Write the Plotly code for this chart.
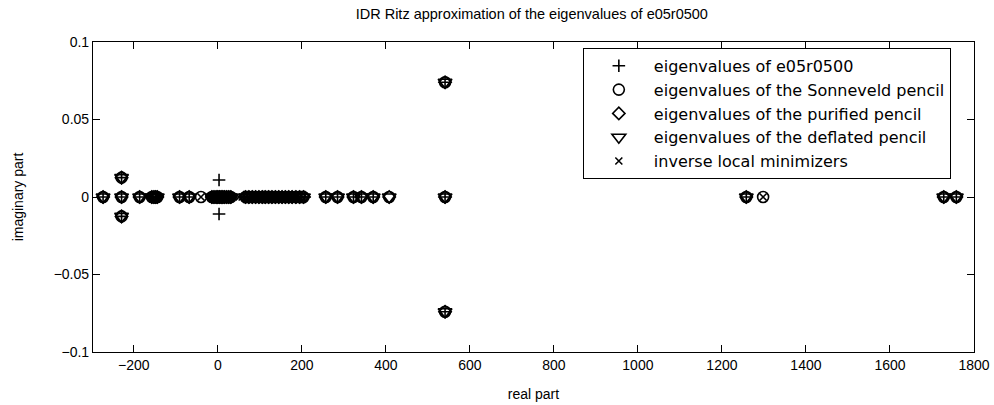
import plotly.graph_objects as go

# ---- data ----
eig_re = [-273, -229, -229, -229, -186, -157, -152, -148, -144, -91, -68,
          -14, -10, -6, -3, 0, 2, 4, 6, 9, 12, 16, 20, 24, 28, 32, 3, 3,
          62, 70, 76, 83, 90, 97, 104, 110, 117, 124, 131, 138, 146, 153,
          160, 168, 176, 184, 192, 200, 207,
          257, 285, 323, 342, 370, 541, 541, 541, 1258, 1728, 1758]
eig_im = [0, 0.0125, -0.0125, 0, 0, 0, 0, 0, 0, 0, 0,
          0, 0, 0, 0, 0, 0, 0, 0, 0, 0, 0, 0, 0, 0, 0, 0.011, -0.011,
          0, 0, 0, 0, 0, 0, 0, 0, 0, 0, 0, 0, 0, 0,
          0, 0, 0, 0, 0, 0, 0,
          0, 0, 0, 0, 0, 0.074, -0.074, 0, 0, 0, 0]

son_re = [-273, -229, -229, -229, -186, -157, -152, -148, -144, -91, -68, -40,
          -14, -9, -4, 0, 4, 8, 12, 16, 21, 26, 31,
          66, 74, 82, 90, 98, 106, 113, 121, 129, 137, 145, 153, 161, 169,
          177, 186, 195, 204, 257, 285, 323, 342, 370, 408,
          541, 541, 541, 1258, 1298, 1728, 1758]
son_im = [0, 0.0125, -0.0125, 0, 0, 0, 0, 0, 0, 0, 0, 0,
          0, 0, 0, 0, 0, 0, 0, 0, 0, 0, 0,
          0, 0, 0, 0, 0, 0, 0, 0, 0, 0, 0, 0, 0, 0,
          0, 0, 0, 0, 0, 0, 0, 0, 0, 0,
          0.074, -0.074, 0, 0, 0, 0, 0]

pur_re = [-273, -229, -229, -229, -186, -157, -152, -148, -144, -91, -68,
          -14, -9, -4, 0, 4, 8, 12, 16, 21, 26, 31,
          66, 74, 82, 90, 98, 106, 113, 121, 129, 137, 145, 153, 161, 169,
          177, 186, 195, 204, 257, 285, 323, 342, 370, 408,
          541, 541, 541, 1258, 1728, 1758]
pur_im = [0, 0.0125, -0.0125, 0, 0, 0, 0, 0, 0, 0, 0,
          0, 0, 0, 0, 0, 0, 0, 0, 0, 0, 0,
          0, 0, 0, 0, 0, 0, 0, 0, 0, 0, 0, 0, 0, 0,
          0, 0, 0, 0, 0, 0, 0, 0, 0, 0,
          0.074, -0.074, 0, 0, 0, 0]

def_re = [-273, -229, -229, -229, -186, -157, -152, -148, -144, -91, -68,
          -14, -9, -4, 0, 4, 8, 12, 16, 21, 26, 31,
          66, 74, 82, 90, 98, 106, 113, 121, 129, 137, 145, 153, 161, 169,
          177, 186, 195, 204, 257, 285, 323, 342, 370, 408,
          541, 541, 541, 1258, 1728, 1758]
def_im = [0, 0.0125, -0.0125, 0, 0, 0, 0, 0, 0, 0, 0,
          0, 0, 0, 0, 0, 0, 0, 0, 0, 0, 0,
          0, 0, 0, 0, 0, 0, 0, 0, 0, 0, 0, 0, 0, 0,
          0, 0, 0, 0, 0, 0, 0, 0, 0, 0,
          0.074, -0.074, 0, 0, 0, 0]

ilm_re = [-40, 51, 58, 68, 80, 94, 108, 122, 136, 150, 165, 180, 1298]
ilm_im = [0, 0, 0, 0, 0, 0, 0, 0, 0, 0, 0, 0, 0]

x_ticks = [-200, 0, 200, 400, 600, 800, 1000, 1200, 1400, 1600, 1800]
x_tick_text = ["\u2212200", "0", "200", "400", "600", "800", "1000", "1200",
               "1400", "1600", "1800"]
y_ticks = [-0.1, -0.05, 0, 0.05, 0.1]
y_tick_text = ["\u22120.1", "\u22120.05", "0", "0.05", "0.1"]

series = [
    ("eigenvalues of e05r0500", eig_re, eig_im, "cross-thin-open", 9),
    ("eigenvalues of the Sonneveld pencil", son_re, son_im, "circle-open", 11),
    ("eigenvalues of the purified pencil", pur_re, pur_im, "diamond-open", 9.5),
    ("eigenvalues of the deflated pencil", def_re, def_im, "triangle-down-open", 12),
    ("inverse local minimizers", ilm_re, ilm_im, "x-thin-open", 7),
]

fig = go.Figure()
for name, xr, yi, sym, sz in series:
    fig.add_trace(go.Scatter(
        x=xr, y=yi, mode="markers", name=name,
        marker=dict(symbol=sym, size=sz, color="black",
                    line=dict(color="black", width=1.6)),
    ))

axis_common = dict(showline=True, linecolor="black", linewidth=1.2, mirror="ticks",
                   ticks="inside", ticklen=7, tickcolor="black", tickwidth=1,
                   showgrid=False, zeroline=False, automargin=False,
                   tickfont=dict(size=14, color="black"))

fig.update_layout(
    width=994, height=405,
    margin=dict(l=93, r=20, t=42, b=53),
    paper_bgcolor="white", plot_bgcolor="white",
    font=dict(family="Liberation Sans, Arial, sans-serif", color="black"),
    title=dict(text="IDR Ritz approximation of the eigenvalues of e05r0500",
               x=0.535, xanchor="center", y=0.965, yanchor="middle",
               font=dict(size=14.5, color="black")),
    xaxis=dict(range=[-297, 1800], tickvals=x_ticks, ticktext=x_tick_text,
               title=dict(text="real part", font=dict(size=14), standoff=17),
               **axis_common),
    yaxis=dict(range=[-0.1, 0.1], tickvals=y_ticks, ticktext=y_tick_text,
               title=dict(text="imaginary part", font=dict(size=14), standoff=26),
               **axis_common),
    legend=dict(x=0.556, y=0.981, xanchor="left", yanchor="top",
                bordercolor="black", borderwidth=1, bgcolor="white",
                font=dict(size=16, color="black", family="DejaVu Sans"),
                itemwidth=60, tracegroupgap=0),
    showlegend=True,
)

fig.write_html("out.html")
